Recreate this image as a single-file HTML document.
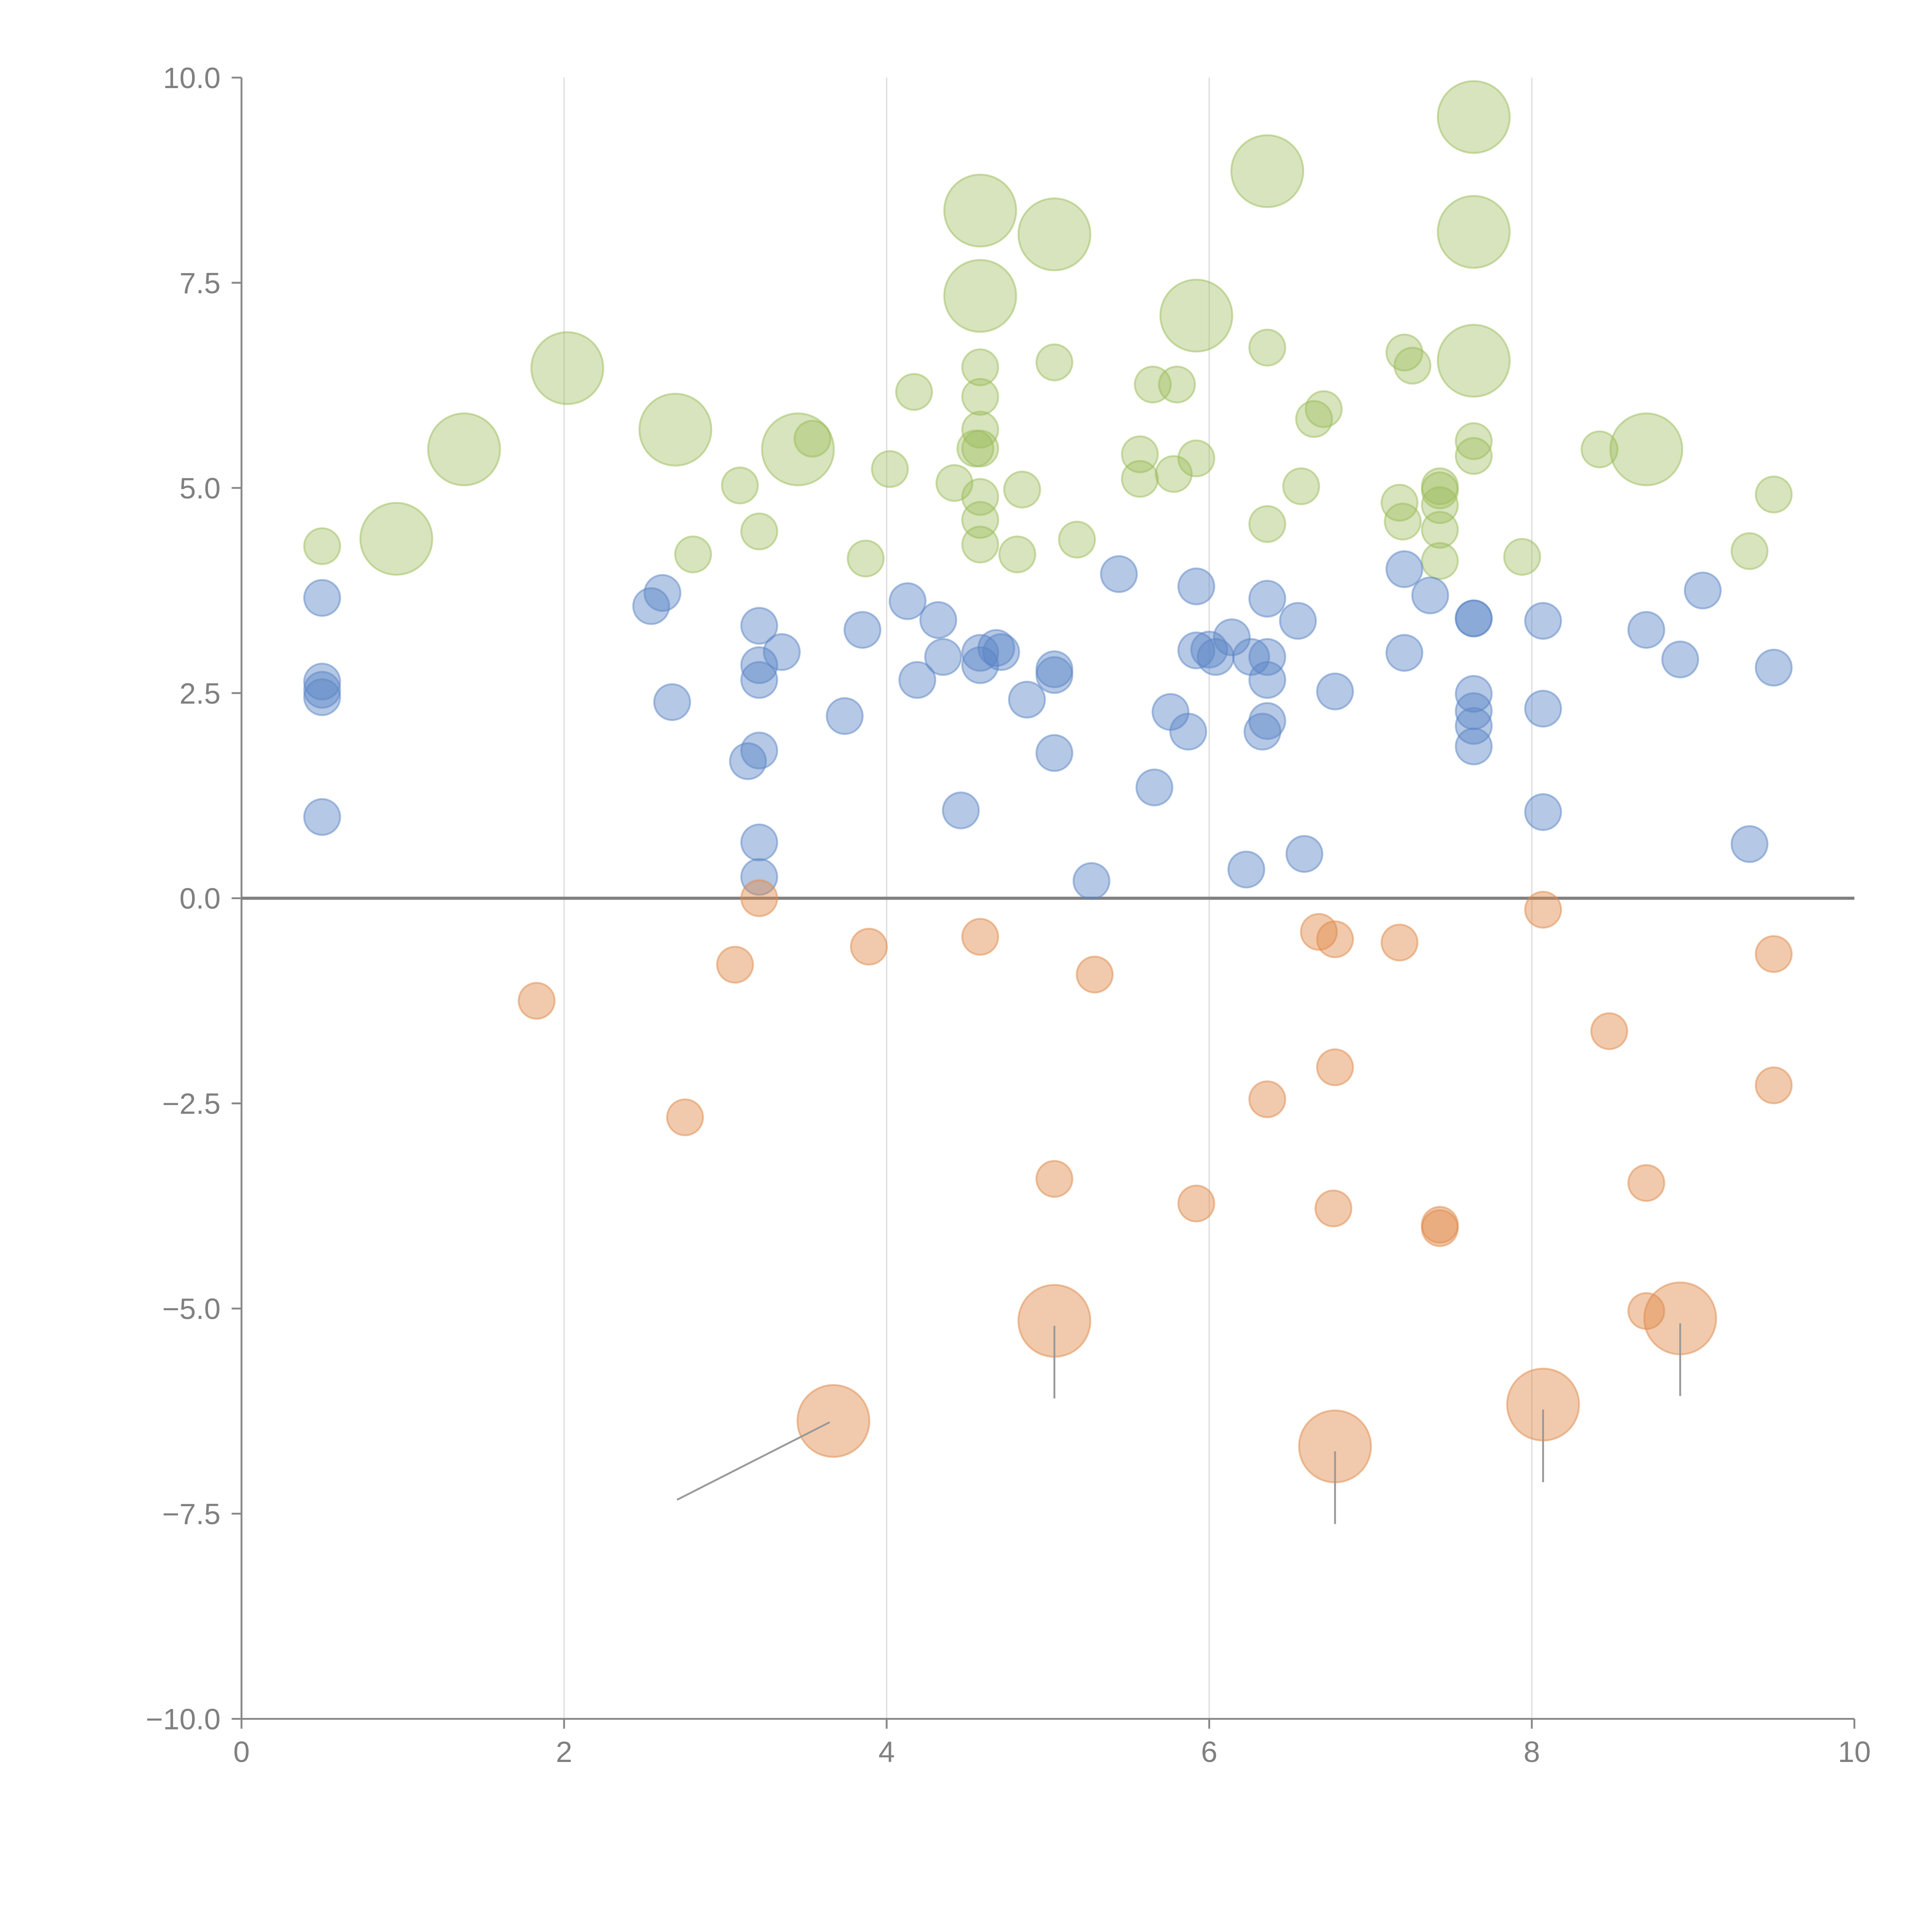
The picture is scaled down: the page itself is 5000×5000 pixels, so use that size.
<!DOCTYPE html>
<html><head><meta charset="utf-8"><style>
html,body{margin:0;padding:0;background:#fff;}
svg{display:block;font-family:"Liberation Sans",Arial,sans-serif;}
</style></head><body>
<svg id="chart" width="5000" height="5000" viewBox="0 0 1568 1568" xmlns="http://www.w3.org/2000/svg">
<g id="grid"></g>
<g id="axes"></g>
<g id="marks"></g>
</svg>
<script>
const xTicks=[0,2,4,6,8,10];
const yTicks=[10,7.5,5,2.5,0,-2.5,-5,-7.5,-10];
const yTickLabels=["10.0","7.5","5.0","2.5","0.0","\u22122.5","\u22125.0","\u22127.5","\u221210.0"];

const greenX=[0.50,0.96,1.38,2.02,2.69,2.80,3.09,3.21,3.45,3.54,3.87,4.02,4.17,4.42,4.58,4.58,4.58,4.58,4.58,4.55,4.58,4.58,4.58,4.58,4.81,4.84,5.04,5.04,5.18,5.57,5.57,5.65,5.80,5.78,5.92,5.92,6.36,6.36,6.36,6.57,6.65,6.71,7.18,7.20,7.21,7.26,7.43,7.43,7.43,7.43,7.43,7.64,7.64,7.64,7.64,7.64,7.94,8.42,8.71,9.35,9.50];
const greenY=[4.29,4.38,5.47,6.46,5.71,4.19,5.03,4.47,5.47,5.60,4.14,5.23,6.17,5.06,8.38,7.34,6.47,6.11,5.71,5.48,5.48,4.89,4.61,4.31,4.19,4.98,8.09,6.53,4.37,5.11,5.41,6.26,6.26,5.17,7.10,5.36,8.86,6.71,4.56,5.02,5.84,5.96,4.82,4.59,6.65,6.49,4.97,4.79,4.49,4.11,5.02,9.52,8.12,6.55,5.57,5.39,4.16,5.47,5.47,4.23,4.92];
const greenSize=[1,4,4,4,4,1,1,1,4,1,1,1,1,1,4,4,1,1,1,1,1,1,1,1,1,1,4,1,1,1,1,1,1,1,4,1,4,1,1,1,1,1,1,1,1,1,1,1,1,1,1,4,4,4,1,1,1,1,4,1,1];

const blueX=[0.50,0.50,0.50,0.50,0.50,2.54,2.61,2.67,3.14,3.21,3.21,3.21,3.21,3.21,3.21,3.35,3.74,3.85,4.13,4.19,4.32,4.35,4.46,4.58,4.58,4.68,4.71,4.87,5.04,5.04,5.04,5.27,5.44,5.66,5.76,5.87,5.92,5.92,6.00,6.04,6.14,6.23,6.26,6.33,6.36,6.36,6.36,6.36,6.55,6.59,6.78,7.21,7.21,7.37,7.64,7.64,7.64,7.64,7.64,7.64,8.07,8.07,8.07,8.71,8.92,9.06,9.35,9.50];
const blueY=[3.66,2.64,2.54,2.45,0.99,3.56,3.72,2.39,1.67,3.32,2.84,2.66,1.80,0.68,0.26,3.00,2.22,3.27,3.62,2.66,3.39,2.94,1.07,2.99,2.84,3.05,3.00,2.42,2.79,2.72,1.77,0.21,3.95,1.35,2.27,2.03,3.80,3.02,3.03,2.94,3.18,0.35,2.94,2.03,3.65,2.94,2.66,2.16,3.38,0.54,2.52,4.01,2.99,3.69,3.41,3.41,2.49,2.28,2.10,1.85,3.38,2.31,1.05,3.27,2.91,3.75,0.66,2.81];

const orangeX=[1.83,2.75,3.06,3.21,3.67,3.89,4.58,5.04,5.04,5.29,5.92,6.36,6.68,6.78,6.78,6.77,6.78,7.18,7.43,7.43,8.07,8.07,8.48,8.71,8.71,8.92,9.50,9.50];
const orangeY=[-1.25,-2.67,-0.81,0.00,-6.37,-0.59,-0.47,-3.42,-5.15,-0.93,-3.72,-2.45,-0.41,-0.50,-2.06,-3.78,-6.68,-0.54,-3.98,-4.02,-0.14,-6.17,-1.62,-3.47,-5.03,-5.12,-0.68,-2.28];
const orangeSize=[1,1,1,1,4,1,1,1,4,1,1,1,1,1,1,1,4,1,1,1,1,4,1,1,1,4,1,1];

const L=196,R=1505,T=63,B=1395;
const sx=v=>L+(v-0)/(10-0)*(R-L);
const sy=v=>B-(v+10)/20*(B-T);
const rr=s=>14.6*Math.sqrt(s);
const NS="http://www.w3.org/2000/svg";
function mk(tag,attrs,parent){const e=document.createElementNS(NS,tag);for(const k in attrs)e.setAttribute(k,attrs[k]);parent.appendChild(e);return e;}
const grid=document.getElementById('grid'),axes=document.getElementById('axes'),marks=document.getElementById('marks');

xTicks.forEach(t=>{
  if(t>0&&t<10){const g=mk('line',{x1:sx(t),x2:sx(t),y1:T,y2:B,stroke:'#dcdcdc','stroke-width':1},grid);
  
  }
  const tk=mk('line',{x1:sx(t),x2:sx(t),y1:B,y2:B+8,stroke:'#888','stroke-width':1.5},axes);
  
  
  const tx=mk('text',{x:sx(t),y:B+35,'text-anchor':'middle','font-size':24,fill:'#808080'},axes);
  tx.textContent=String(t);
  
  
});
yTicks.forEach((t,i)=>{
  const tk=mk('line',{x1:L-8,x2:L,y1:sy(t),y2:sy(t),stroke:'#888','stroke-width':1.5},axes);
  
  
  const tx=mk('text',{x:L-17,y:sy(t)+8.5,'text-anchor':'end','font-size':24,fill:'#808080'},axes);
  tx.textContent=yTickLabels[i];
  
  
});
const ya=mk('line',{x1:L,x2:L,y1:T,y2:B,stroke:'#888','stroke-width':1.5},axes);


const xa=mk('line',{x1:L,x2:R,y1:B,y2:B,stroke:'#888','stroke-width':1.5},axes);


const zl=mk('line',{x1:L,x2:R,y1:sy(0),y2:sy(0),stroke:'#808080','stroke-width':2.5},axes);



function series(xs,ys,sizes,fill,op,name){
  xs.forEach((x,i)=>{
    const s=sizes?sizes[i]:1;
    const c=mk('circle',{cx:sx(x),cy:sy(ys[i]),r:rr(s),fill:fill,'fill-opacity':op,stroke:fill,'stroke-opacity':0.5,'stroke-width':1.5},marks);
    
    
  });
}
series(greenX,greenY,greenSize,'#9bbb59',0.4,'green-bubble');
series(blueX,blueY,null,'#5b86c5',0.45,'blue-bubble');
series(orangeX,orangeY,orangeSize,'#e08a4a',0.45,'orange-bubble');

orangeSize.forEach((s,i)=>{
  if(s<4)return;
  const x=sx(orangeX[i]),y=sy(orangeY[i]);
  let ln;
  if(orangeX[i]<4){ln=mk('line',{x1:x-3,y1:y+1,x2:x-127,y2:y+64,stroke:'#999','stroke-width':1.5},marks);}
  else{ln=mk('line',{x1:x,y1:y+4,x2:x,y2:y+63,stroke:'#999','stroke-width':1.5},marks);}
  
  
});
</script>
</body></html>
